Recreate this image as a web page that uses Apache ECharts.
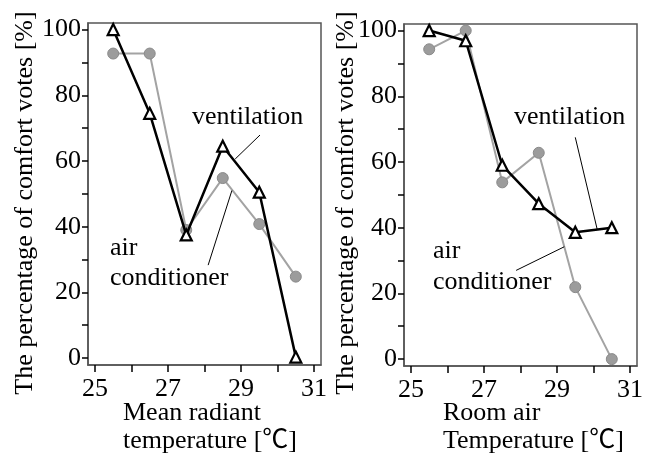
<!DOCTYPE html>
<html>
<head>
<meta charset="utf-8">
<script src="https://cdn.jsdelivr.net/npm/echarts@6/dist/echarts.min.js"></script>
<style>
  html, body { margin: 0; padding: 0; background: #fff; }
  #chart { width: 651px; height: 456px; }
</style>
</head>
<body>
<div id="chart"></div>
<script>
// temperatures (bin centres), shared by both panels
const temps = [25.5, 26.5, 27.5, 28.5, 29.5, 30.5];

// left panel: mean radiant temperature
const mrtVentilation = [100, 74.5, 37.5, 64.5, 50.5, 0.3];
const mrtAirCon = [92.7, 92.7, 39, 54.8, 40.8, 24.8];

// right panel: room air temperature
const roomVentilation = [100, 96.9, 59, 47.3, 38.6, 40];
const roomAirCon = [94.3, 100, 53.8, 62.8, 21.9, 0];

// tick values
const xTicks = [25, 26, 27, 28, 29, 30, 31];
const xLabels = [25, 27, 29, 31];
const yTicks = [0, 10, 20, 30, 40, 50, 60, 70, 80, 90, 100];
const yLabels = [0, 20, 40, 60, 80, 100];

// leader lines for the annotations, in data units [x, y]
const mrtVentLeader = [[29.52, 67.9], [28.84, 60.6]];
const mrtAirLeader = [[28.1, 28.3], [28.75, 51]];
const roomVentLeader = [[29.5, 67.5], [30.1, 39.5]];
const roomAirLeader = [[27.88, 27], [29.2, 34.2]];

const FONT = "'Liberation Serif', 'Noto Sans CJK JP', serif";
const AXIS_COLOR = "#555";

const pair = (xs, ys) => xs.map((x, i) => [x, ys[i]]);

function xAxisFor(gridIndex) {
  return {
    type: "value",
    gridIndex,
    min: 24.81,
    max: 31.19,
    axisLine: { show: true, onZero: false, lineStyle: { color: AXIS_COLOR, width: 1.5 } },
    axisTick: { show: true, inside: false, length: 7, customValues: xTicks, lineStyle: { color: "#000", width: 1.5 } },
    axisLabel: { customValues: xLabels, color: "#000", fontFamily: FONT, fontSize: 26, margin: 11 },
    splitLine: { show: false },
  };
}

function yAxisFor(gridIndex) {
  return {
    type: "value",
    gridIndex,
    min: -2.1,
    max: 102,
    axisLine: { show: true, onZero: false, lineStyle: { color: AXIS_COLOR, width: 1.5 } },
    axisTick: { show: true, inside: false, length: 6, customValues: yTicks, lineStyle: { color: "#000", width: 1.5 } },
    axisLabel: { customValues: yLabels, color: "#000", fontFamily: FONT, fontSize: 26, margin: 7 },
    splitLine: { show: false },
  };
}

function leader(pts) {
  return {
    silent: true,
    symbol: ["none", "none"],
    label: { show: false },
    lineStyle: { color: "#000", width: 1, type: "solid" },
    data: [[{ coord: pts[0] }, { coord: pts[1] }]],
  };
}

function airSeries(idx, values, lead) {
  return {
    name: "air conditioner",
    type: "line",
    xAxisIndex: idx,
    yAxisIndex: idx,
    data: pair(temps, values),
    symbol: "circle",
    symbolSize: 11,
    lineStyle: { color: "#a3a3a3", width: 2 },
    itemStyle: { color: "#9c9c9c", borderColor: "#8a8a8a", borderWidth: 1 },
    z: 2,
    markLine: leader(lead),
  };
}

function ventSeries(idx, values, lead) {
  return {
    name: "ventilation",
    type: "line",
    xAxisIndex: idx,
    yAxisIndex: idx,
    data: pair(temps, values),
    symbol: "triangle",
    symbolSize: 11,
    lineStyle: { color: "#000", width: 2.5 },
    itemStyle: { color: "#fff", borderColor: "#000", borderWidth: 2.2 },
    z: 3,
    markLine: leader(lead),
  };
}

function txt(x, y, text, extra) {
  return {
    type: "text",
    x,
    y,
    style: Object.assign({ text, font: "26px " + FONT, fill: "#000", textVerticalAlign: "middle" }, extra || {}),
  };
}

const chart = echarts.init(document.getElementById("chart"));
chart.setOption({
  animation: false,
  backgroundColor: "#fff",
  grid: [
    { left: 88, top: 23, width: 233, height: 342, show: true, borderColor: AXIS_COLOR, borderWidth: 1.5, containLabel: false },
    { left: 404, top: 24, width: 233, height: 342, show: true, borderColor: AXIS_COLOR, borderWidth: 1.5, containLabel: false },
  ],
  xAxis: [xAxisFor(0), xAxisFor(1)],
  yAxis: [yAxisFor(0), yAxisFor(1)],
  series: [
    airSeries(0, mrtAirCon, mrtAirLeader),
    ventSeries(0, mrtVentilation, mrtVentLeader),
    airSeries(1, roomAirCon, roomAirLeader),
    ventSeries(1, roomVentilation, roomVentLeader),
  ],
  graphic: [
    // y axis titles
    txt(25, 203, "The percentage of comfort votes [%]", { textAlign: "center" }),
    txt(346, 203, "The percentage of comfort votes [%]", { textAlign: "center" }),
    // x axis titles
    txt(123, 413, "Mean radiant"),
    txt(123, 441, "temperature [℃]"),
    txt(443, 413, "Room air"),
    txt(443, 441, "Temperature [℃]"),
    // annotations
    txt(192, 117, "ventilation"),
    txt(110, 248, "air"),
    txt(110, 278, "conditioner"),
    txt(514, 117, "ventilation"),
    txt(433, 251, "air"),
    txt(433, 282, "conditioner"),
  ].map((g, i) => (i < 2 ? Object.assign(g, { rotation: Math.PI / 2 }) : g)),
});
</script>
</body>
</html>
